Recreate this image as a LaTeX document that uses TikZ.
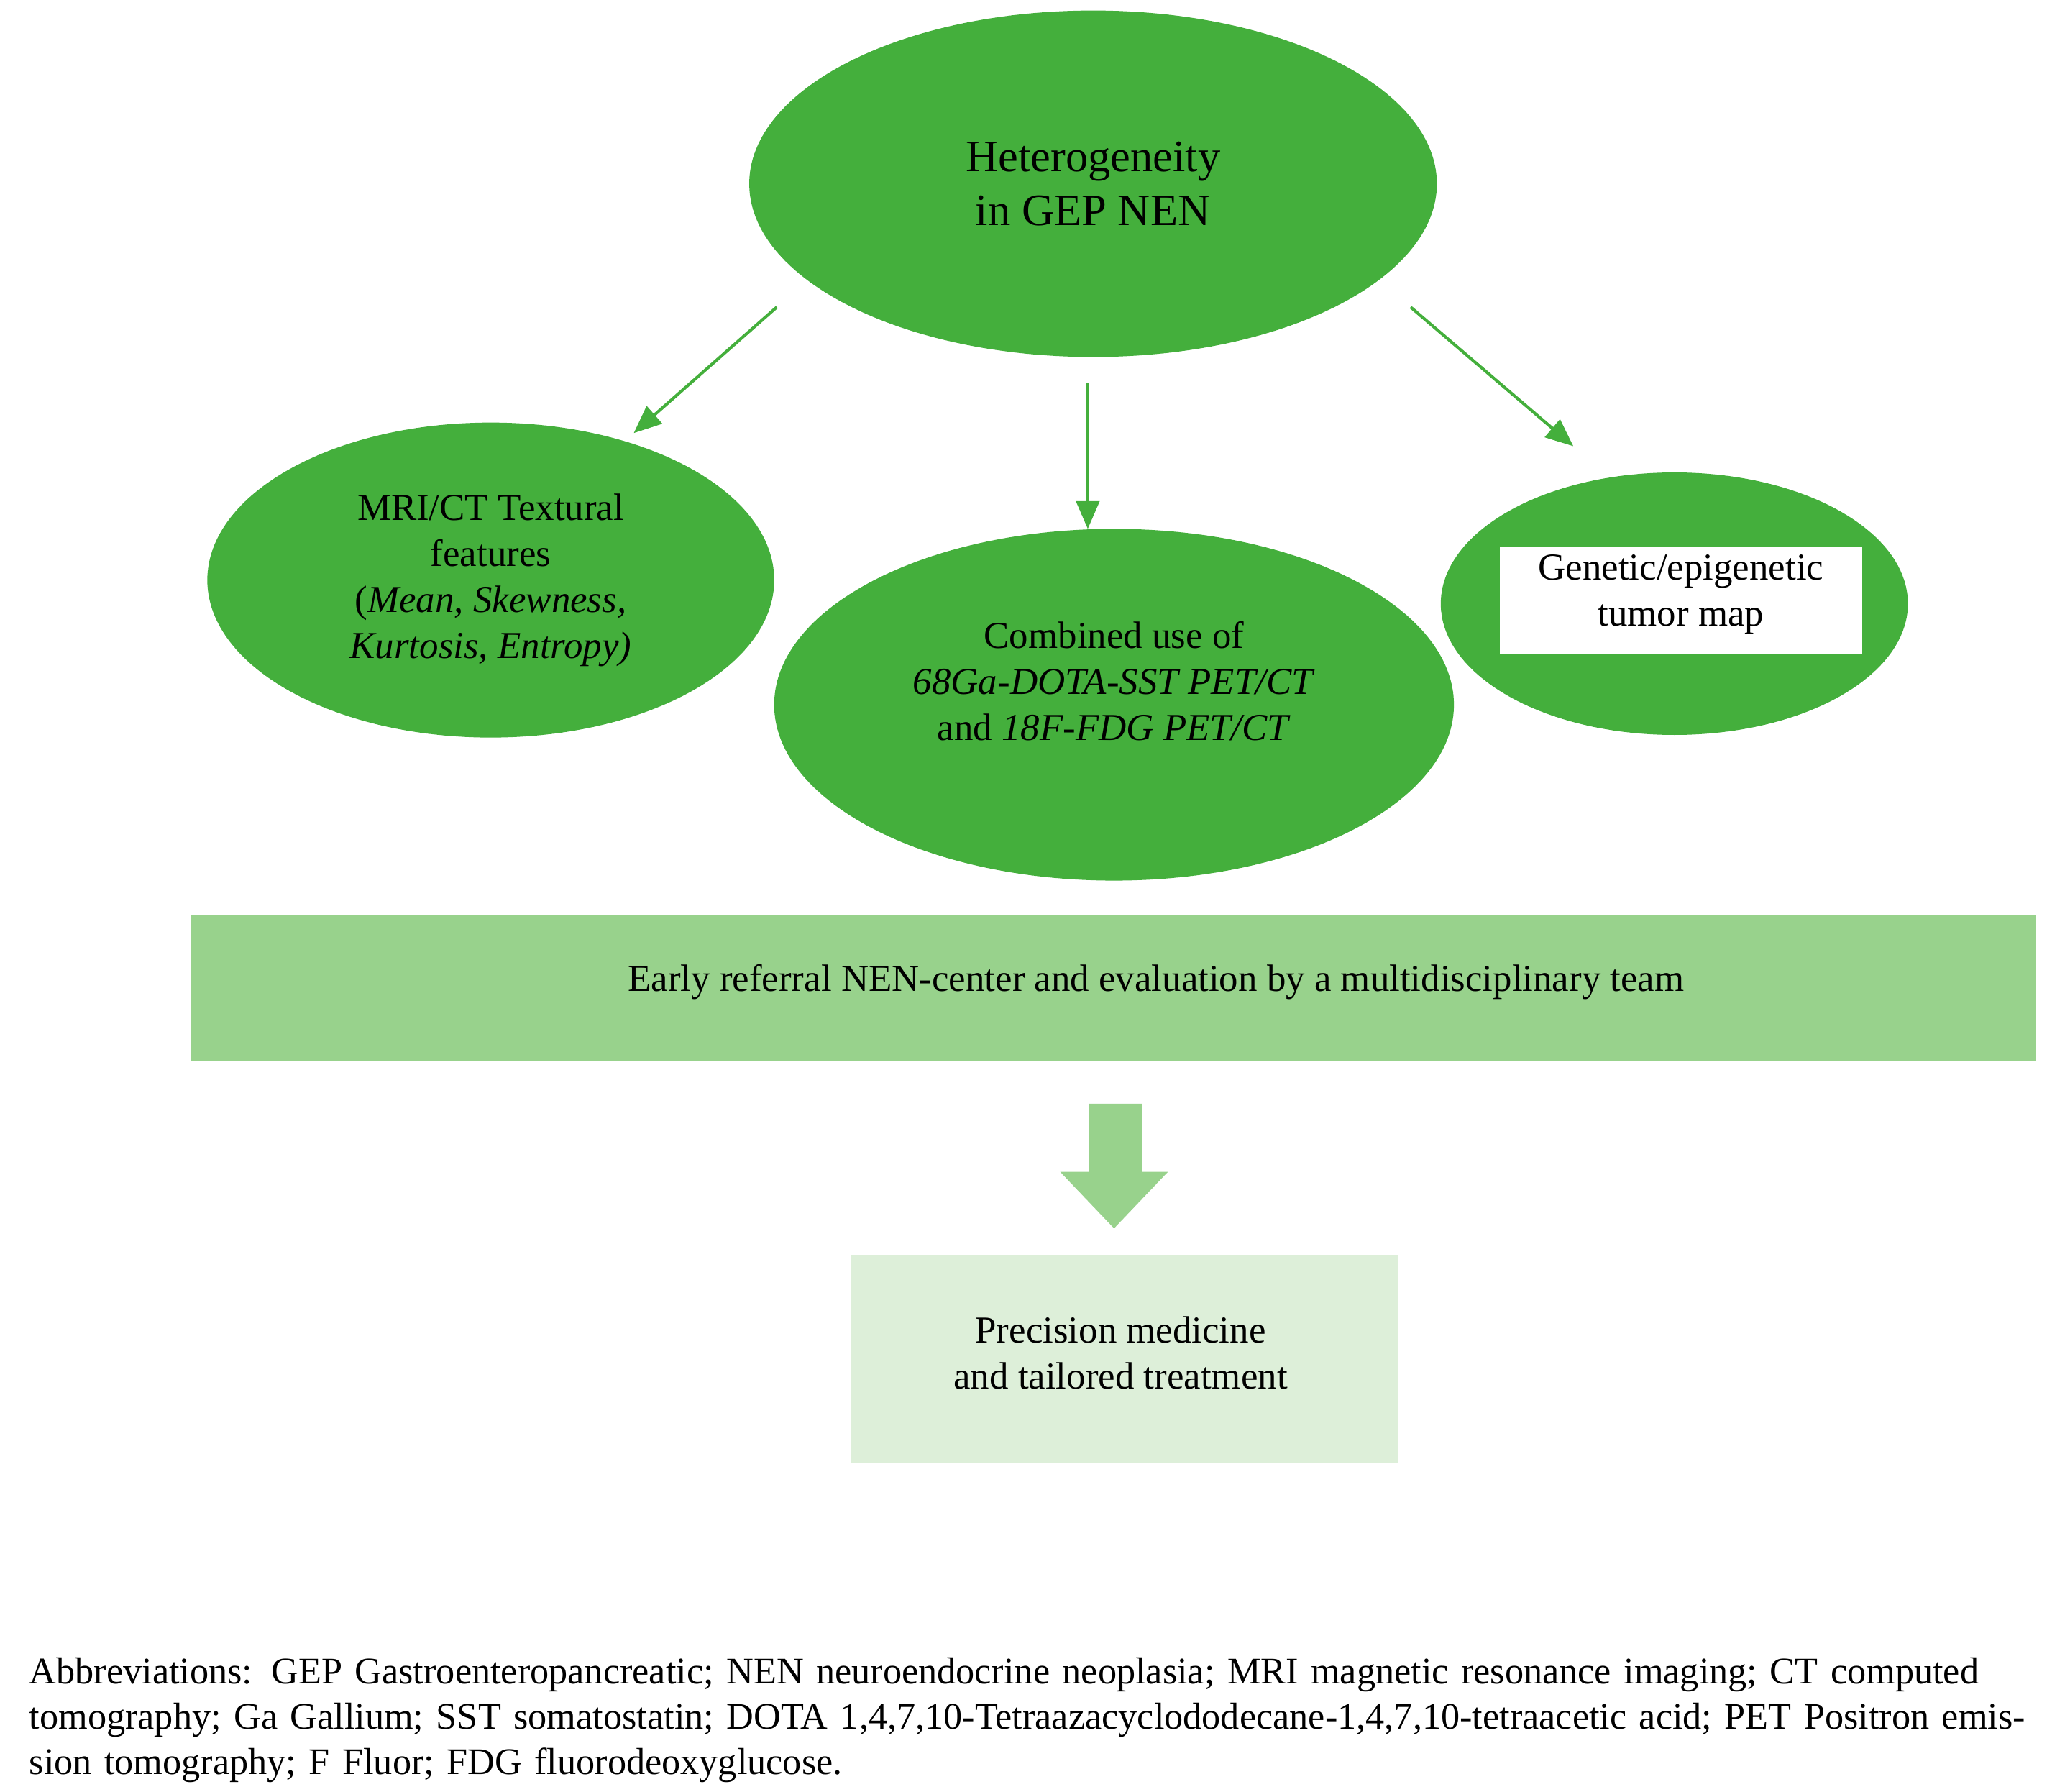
\documentclass[tikz,border=0pt]{standalone}
\usepackage{fontspec}
\setmainfont{Liberation Serif}
\usetikzlibrary{arrows.meta}
\definecolor{dg}{HTML}{44AF3C}
\definecolor{lg}{HTML}{98D28C}
\definecolor{pg}{HTML}{DDEFD9}
\begin{document}
\begin{tikzpicture}[x=0.02cm,y=-0.02cm,
  ell/.style={ellipse,fill=dg,draw=none,inner sep=0pt},
  arr/.style={draw=dg,line width=1.3pt,-{Triangle[length=12pt,width=10pt]}},
  txt/.style={align=center,font=\fontsize{16.5}{20}\selectfont}]
\useasboundingbox (0,0) rectangle (1560,1365);
\fill[dg] (833,140) ellipse [x radius=262,y radius=132];
\node[txt,font=\fontsize{19.5}{23.5}\selectfont] (top) at (833,140) {Heterogeneity\\in GEP NEN};
\fill[dg] (374,442) ellipse [x radius=216,y radius=120];
\node[txt] (left) at (374,442) {MRI/CT Textural\\features\\(\textit{Mean, Skewness,}\\\textit{Kurtosis, Entropy)}};
\fill[dg] (849,537) ellipse [x radius=259,y radius=134];
\node[txt] (mid) at (849,519) {Combined use of\\\textit{68Ga-DOTA-SST PET/CT}\\and \textit{18F-FDG PET/CT}};
\fill[dg] (1276,460) ellipse [x radius=178,y radius=100];
\fill[white] (1143,417) rectangle (1419,498);
\node[txt] (right) at (1281,453) {Genetic/epigenetic\\tumor map};
\coordinate (a1) at (592,234); \coordinate (b1) at (483,330);
\coordinate (a2) at (829,292); \coordinate (b2) at (829,403);
\coordinate (a3) at (1075,234); \coordinate (b3) at (1199,340);
\draw[arr] (a1) -- (b1);
\draw[arr] (a2) -- (b2);
\draw[arr] (a3) -- (b3);
\fill[lg] (145,697) rectangle (1552,809);
\node[txt] (band) at (881,748) {Early referral NEN-center and evaluation by a multidisciplinary team};
\fill[lg] (830,841) -- (870,841) -- (870,893) -- (890,893) -- (849,936) -- (808,893) -- (830,893) -- cycle;
\fill[pg] (649,956) rectangle (1065,1115);
\node[txt] (pm) at (854,1031) {Precision medicine\\and tailored treatment};
\node[anchor=north west,align=left,font=\fontsize{16.3}{19.6}\selectfont,inner sep=0pt,text width=1530*0.02cm] (abb) at (22,1263) {Abbreviations: GEP Gastroenteropancreatic; NEN neuroendocrine neoplasia; MRI magnetic resonance imaging; CT computed tomography; Ga Gallium; SST somatostatin; DOTA 1,4,7,10-Tetraazacyclododecane-1,4,7,10-tetraacetic acid; PET Positron emission tomography; F Fluor; FDG fluorodeoxyglucose.};
\end{tikzpicture}
\end{document}
